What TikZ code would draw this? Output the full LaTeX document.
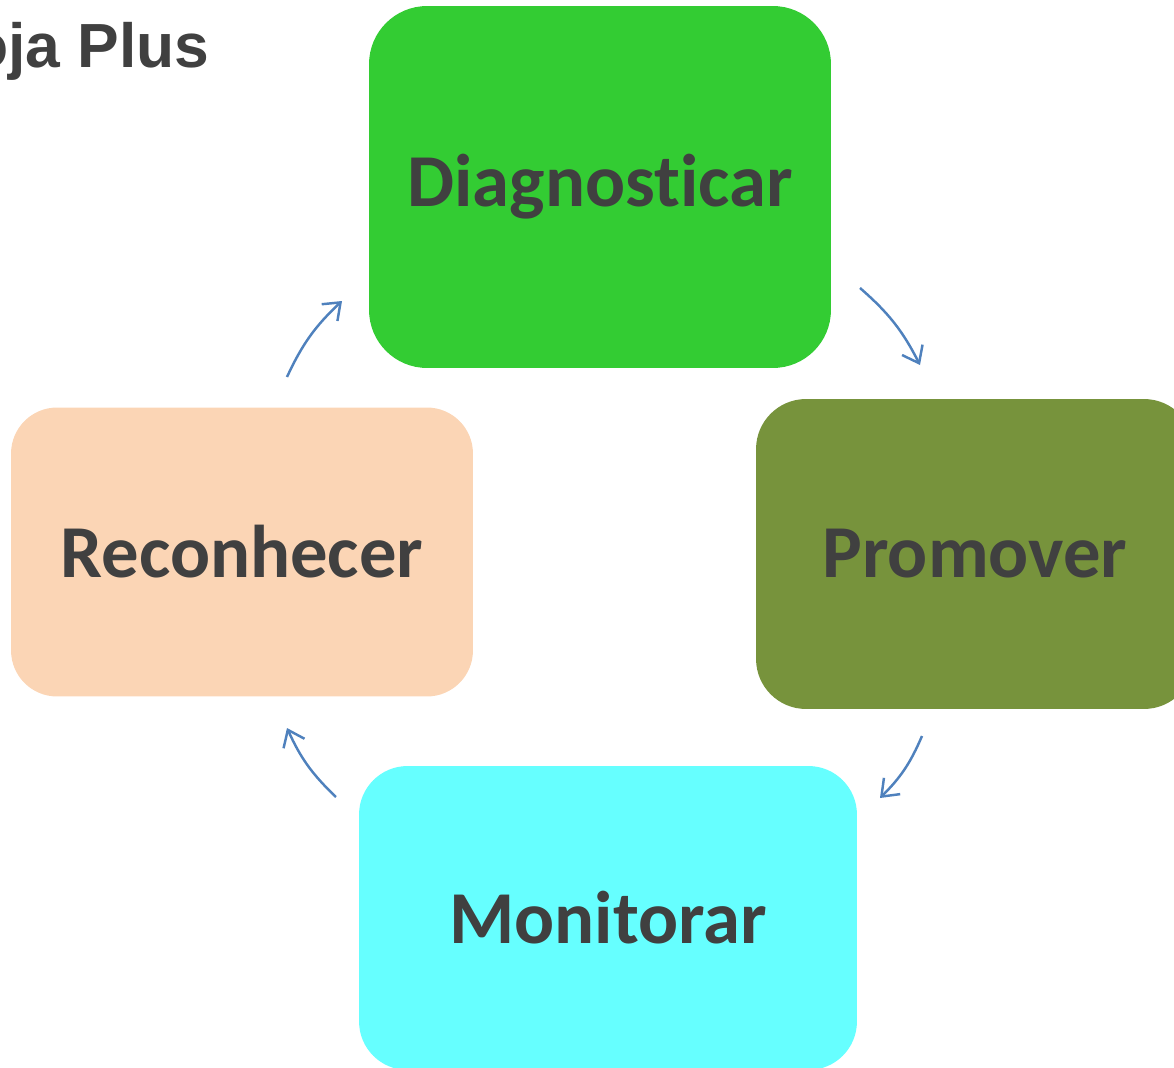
\documentclass[tikz,border=0pt]{standalone}
\usepackage{fontspec}
\setmainfont{Carlito}[Ligatures=NoCommon]
\newfontfamily\titlefont{Liberation Sans}
\usepackage{tikz}
\usetikzlibrary{arrows.meta,positioning}
\usepackage{xcolor}
\definecolor{diaggreen}{HTML}{33CC33}
\definecolor{promolive}{HTML}{77933C}
\definecolor{reconpeach}{HTML}{FBD5B5}
\definecolor{moncyan}{HTML}{66FFFF}
\definecolor{labelgray}{HTML}{404040}
\definecolor{arrowblue}{HTML}{4F81BD}

\begin{document}
\begin{tikzpicture} [
      x = 0.02cm, y = -0.02cm,
      stage/.style = { rectangle, inner sep = 0, text = labelgray,
                       font = \fontsize{42.5}{50}\selectfont\bfseries },
      cycle/.style = { line width = 1.4pt, draw = arrowblue, bend left = 11,
                       -{Straight Barb[length = 0.3cm, width = 0.46cm]} }
      ]

      \useasboundingbox (0,0) rectangle (1174,1068);
      \clip (0,0) rectangle (1174,1068);

      \node [anchor = base east, inner sep = 0, text = labelgray,
             font = \titlefont\fontsize{35.5}{40}\selectfont\bfseries] (title) at (210,68) {oja Plus};

      \node [stage, fill = diaggreen, minimum width = 9.24cm, minimum height = 7.24cm,
             rounded corners = 1.16cm] (diag) at (600,187) {Diagnosticar};
      \node [stage, fill = promolive, minimum width = 8.76cm, minimum height = 6.2cm,
             rounded corners = 1cm] (prom) at (975,554) {Promover};
      \node [stage, fill = moncyan, minimum width = 9.96cm, minimum height = 6.08cm,
             rounded corners = 0.97cm] (moni) at (608,918) {Monitorar};
      \node [stage, fill = reconpeach, minimum width = 9.24cm, minimum height = 5.78cm,
             rounded corners = 0.92cm] (recon) at (242,552) {Reconhecer};

      % arrow ends, just off the boxes
      \coordinate (diag out) at (860,288);
      \coordinate (prom in) at (920,365);
      \coordinate (prom out) at (922,736);
      \coordinate (moni in) at (880,798);
      \coordinate (moni out) at (336,797);
      \coordinate (recon in) at (287,728);
      \coordinate (recon out) at (287,377);
      \coordinate (diag in) at (342,301);

      \draw [cycle] (diag out) to (prom in);
      \draw [cycle] (prom out) to (moni in);
      \draw [cycle] (moni out) to (recon in);
      \draw [cycle] (recon out) to (diag in);
    \end{tikzpicture}
\end{document}
